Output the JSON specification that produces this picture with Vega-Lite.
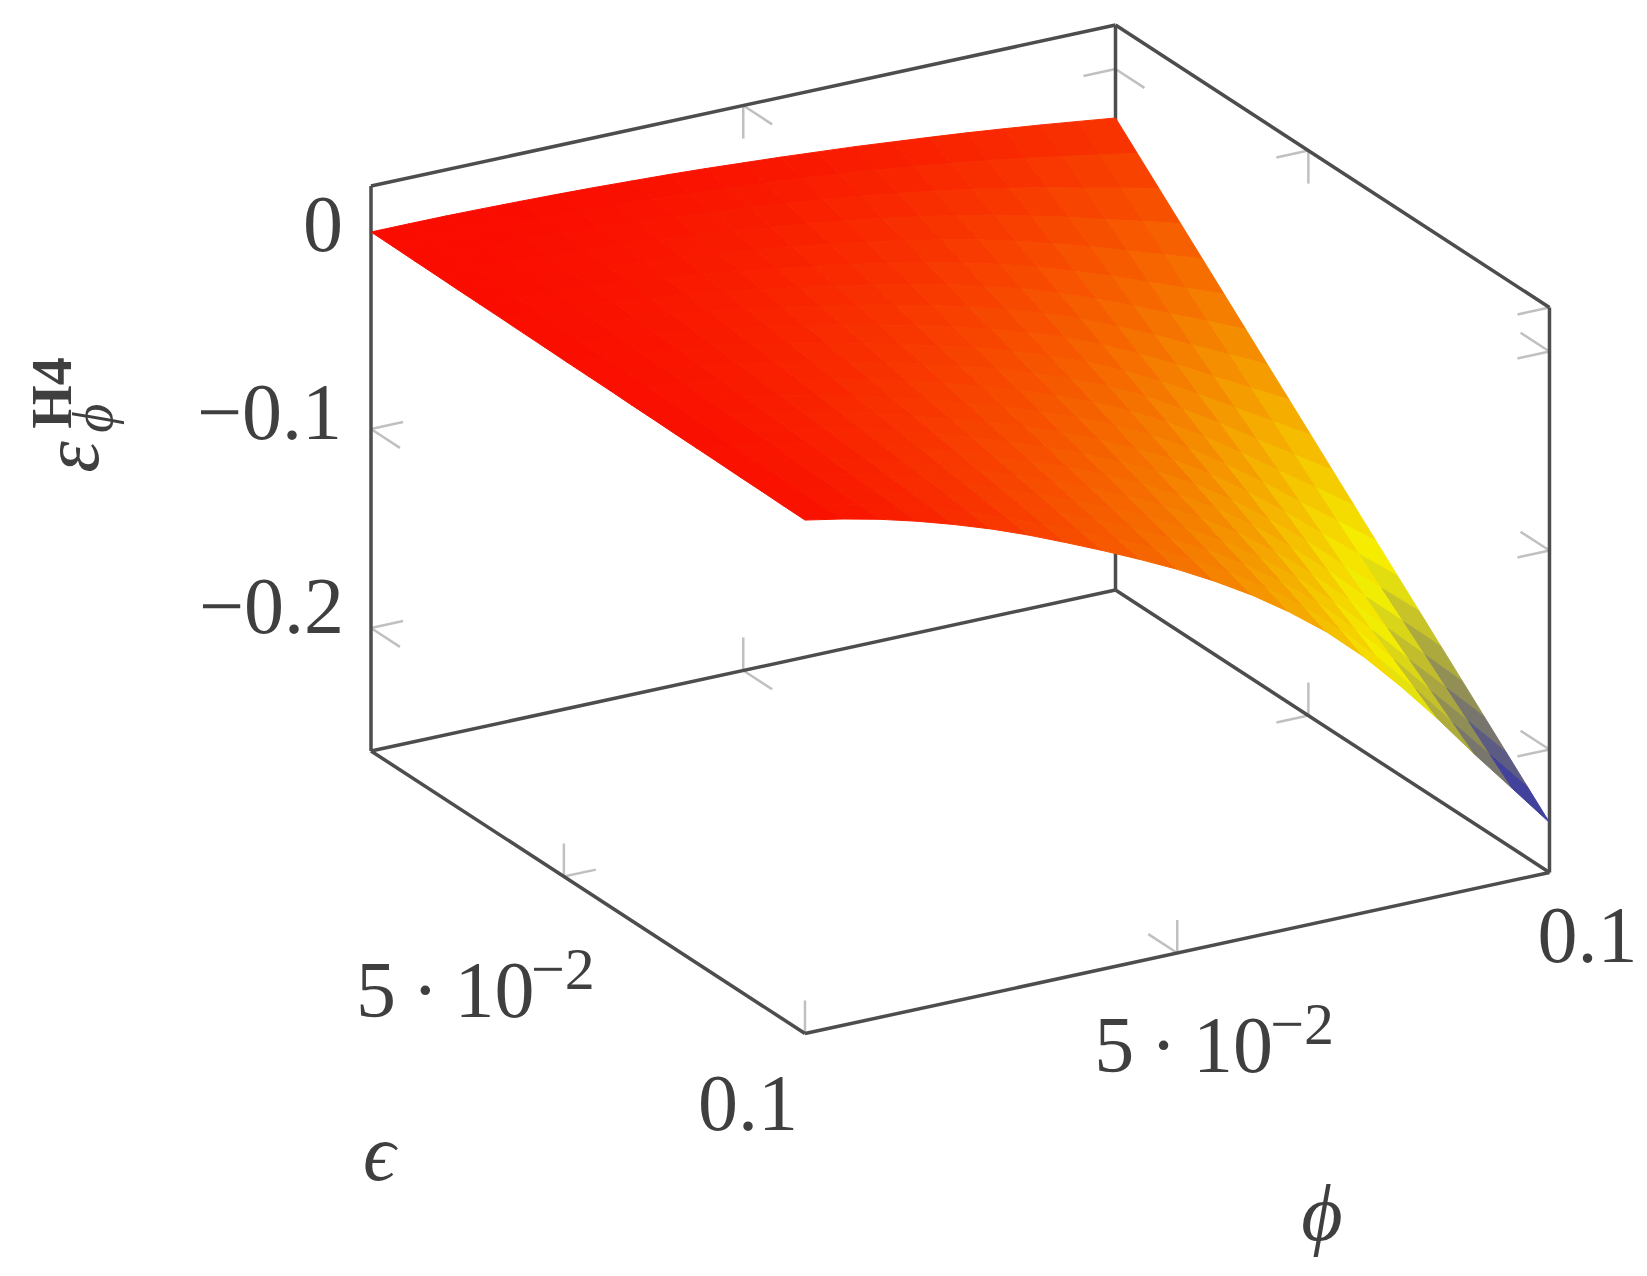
{"$schema":"https://vega.github.io/schema/vega-lite/v6.json","width":1647,"height":1276,"autosize":{"type":"none"},"padding":0,"background":"white","config":{"view":{"stroke":null}},
"datasets":{"grid":[
{"k":0,"z":-0.001},{"k":1,"z":-0.0011},{"k":2,"z":-0.0013},{"k":3,"z":-0.0014},{"k":4,"z":-0.0016},{"k":5,"z":-0.0017},{"k":6,"z":-0.0018},{"k":7,"z":-0.002},{"k":8,"z":-0.0021},{"k":9,"z":-0.0023},{"k":10,"z":-0.0024},{"k":11,"z":-0.0025},{"k":12,"z":-0.0027},{"k":13,"z":-0.0028},{"k":14,"z":-0.003},{"k":15,"z":-0.0031},{"k":16,"z":-0.0032},{"k":17,"z":-0.0034},{"k":18,"z":-0.0035},{"k":19,"z":-0.0037},{"k":20,"z":-0.0038},
{"k":100,"z":-0.001},{"k":101,"z":-0.0013},{"k":102,"z":-0.0016},{"k":103,"z":-0.002},{"k":104,"z":-0.0023},{"k":105,"z":-0.0026},{"k":106,"z":-0.0029},{"k":107,"z":-0.0032},{"k":108,"z":-0.0035},{"k":109,"z":-0.0038},{"k":110,"z":-0.0042},{"k":111,"z":-0.0045},{"k":112,"z":-0.0048},{"k":113,"z":-0.0051},{"k":114,"z":-0.0054},{"k":115,"z":-0.0057},{"k":116,"z":-0.006},{"k":117,"z":-0.0064},{"k":118,"z":-0.0067},{"k":119,"z":-0.007},{"k":120,"z":-0.0073},
{"k":200,"z":-0.0011},{"k":201,"z":-0.0017},{"k":202,"z":-0.0022},{"k":203,"z":-0.0027},{"k":204,"z":-0.0032},{"k":205,"z":-0.0037},{"k":206,"z":-0.0043},{"k":207,"z":-0.0048},{"k":208,"z":-0.0053},{"k":209,"z":-0.0058},{"k":210,"z":-0.0063},{"k":211,"z":-0.0068},{"k":212,"z":-0.0074},{"k":213,"z":-0.0079},{"k":214,"z":-0.0084},{"k":215,"z":-0.0089},{"k":216,"z":-0.0094},{"k":217,"z":-0.0099},{"k":218,"z":-0.0105},{"k":219,"z":-0.011},{"k":220,"z":-0.0115},
{"k":300,"z":-0.0014},{"k":301,"z":-0.0022},{"k":302,"z":-0.0029},{"k":303,"z":-0.0037},{"k":304,"z":-0.0044},{"k":305,"z":-0.0052},{"k":306,"z":-0.0059},{"k":307,"z":-0.0067},{"k":308,"z":-0.0074},{"k":309,"z":-0.0082},{"k":310,"z":-0.009},{"k":311,"z":-0.0097},{"k":312,"z":-0.0105},{"k":313,"z":-0.0112},{"k":314,"z":-0.012},{"k":315,"z":-0.0127},{"k":316,"z":-0.0135},{"k":317,"z":-0.0142},{"k":318,"z":-0.015},{"k":319,"z":-0.0157},{"k":320,"z":-0.0165},
{"k":400,"z":-0.0018},{"k":401,"z":-0.0028},{"k":402,"z":-0.0038},{"k":403,"z":-0.0048},{"k":404,"z":-0.0059},{"k":405,"z":-0.0069},{"k":406,"z":-0.0079},{"k":407,"z":-0.0089},{"k":408,"z":-0.0099},{"k":409,"z":-0.011},{"k":410,"z":-0.012},{"k":411,"z":-0.013},{"k":412,"z":-0.014},{"k":413,"z":-0.0151},{"k":414,"z":-0.0161},{"k":415,"z":-0.0171},{"k":416,"z":-0.0181},{"k":417,"z":-0.0191},{"k":418,"z":-0.0202},{"k":419,"z":-0.0212},{"k":420,"z":-0.0222},
{"k":500,"z":-0.0023},{"k":501,"z":-0.0036},{"k":502,"z":-0.0049},{"k":503,"z":-0.0062},{"k":504,"z":-0.0075},{"k":505,"z":-0.0089},{"k":506,"z":-0.0102},{"k":507,"z":-0.0115},{"k":508,"z":-0.0128},{"k":509,"z":-0.0141},{"k":510,"z":-0.0154},{"k":511,"z":-0.0167},{"k":512,"z":-0.018},{"k":513,"z":-0.0193},{"k":514,"z":-0.0206},{"k":515,"z":-0.0219},{"k":516,"z":-0.0233},{"k":517,"z":-0.0246},{"k":518,"z":-0.0259},{"k":519,"z":-0.0272},{"k":520,"z":-0.0285},
{"k":600,"z":-0.0029},{"k":601,"z":-0.0045},{"k":602,"z":-0.0062},{"k":603,"z":-0.0078},{"k":604,"z":-0.0095},{"k":605,"z":-0.0111},{"k":606,"z":-0.0127},{"k":607,"z":-0.0144},{"k":608,"z":-0.016},{"k":609,"z":-0.0176},{"k":610,"z":-0.0193},{"k":611,"z":-0.0209},{"k":612,"z":-0.0225},{"k":613,"z":-0.0242},{"k":614,"z":-0.0258},{"k":615,"z":-0.0274},{"k":616,"z":-0.0291},{"k":617,"z":-0.0307},{"k":618,"z":-0.0323},{"k":619,"z":-0.034},{"k":620,"z":-0.0356},
{"k":700,"z":-0.0037},{"k":701,"z":-0.0056},{"k":702,"z":-0.0076},{"k":703,"z":-0.0096},{"k":704,"z":-0.0116},{"k":705,"z":-0.0136},{"k":706,"z":-0.0156},{"k":707,"z":-0.0176},{"k":708,"z":-0.0196},{"k":709,"z":-0.0215},{"k":710,"z":-0.0235},{"k":711,"z":-0.0255},{"k":712,"z":-0.0275},{"k":713,"z":-0.0295},{"k":714,"z":-0.0315},{"k":715,"z":-0.0335},{"k":716,"z":-0.0355},{"k":717,"z":-0.0374},{"k":718,"z":-0.0394},{"k":719,"z":-0.0414},{"k":720,"z":-0.0434},
{"k":800,"z":-0.0045},{"k":801,"z":-0.0069},{"k":802,"z":-0.0092},{"k":803,"z":-0.0116},{"k":804,"z":-0.0139},{"k":805,"z":-0.0163},{"k":806,"z":-0.0186},{"k":807,"z":-0.021},{"k":808,"z":-0.0233},{"k":809,"z":-0.0257},{"k":810,"z":-0.028},{"k":811,"z":-0.0304},{"k":812,"z":-0.0327},{"k":813,"z":-0.0351},{"k":814,"z":-0.0374},{"k":815,"z":-0.0398},{"k":816,"z":-0.0421},{"k":817,"z":-0.0445},{"k":818,"z":-0.0468},{"k":819,"z":-0.0492},{"k":820,"z":-0.0515},
{"k":900,"z":-0.0055},{"k":901,"z":-0.0083},{"k":902,"z":-0.011},{"k":903,"z":-0.0137},{"k":904,"z":-0.0164},{"k":905,"z":-0.0192},{"k":906,"z":-0.0219},{"k":907,"z":-0.0246},{"k":908,"z":-0.0273},{"k":909,"z":-0.03},{"k":910,"z":-0.0328},{"k":911,"z":-0.0355},{"k":912,"z":-0.0382},{"k":913,"z":-0.0409},{"k":914,"z":-0.0437},{"k":915,"z":-0.0464},{"k":916,"z":-0.0491},{"k":917,"z":-0.0518},{"k":918,"z":-0.0545},{"k":919,"z":-0.0573},{"k":920,"z":-0.06},
{"k":1000,"z":-0.0067},{"k":1001,"z":-0.0098},{"k":1002,"z":-0.0129},{"k":1003,"z":-0.016},{"k":1004,"z":-0.0191},{"k":1005,"z":-0.0222},{"k":1006,"z":-0.0254},{"k":1007,"z":-0.0285},{"k":1008,"z":-0.0316},{"k":1009,"z":-0.0347},{"k":1010,"z":-0.0378},{"k":1011,"z":-0.0409},{"k":1012,"z":-0.0441},{"k":1013,"z":-0.0472},{"k":1014,"z":-0.0503},{"k":1015,"z":-0.0534},{"k":1016,"z":-0.0565},{"k":1017,"z":-0.0596},{"k":1018,"z":-0.0628},{"k":1019,"z":-0.0659},{"k":1020,"z":-0.069},
{"k":1100,"z":-0.0079},{"k":1101,"z":-0.0114},{"k":1102,"z":-0.015},{"k":1103,"z":-0.0186},{"k":1104,"z":-0.0221},{"k":1105,"z":-0.0257},{"k":1106,"z":-0.0292},{"k":1107,"z":-0.0328},{"k":1108,"z":-0.0363},{"k":1109,"z":-0.0399},{"k":1110,"z":-0.0434},{"k":1111,"z":-0.047},{"k":1112,"z":-0.0506},{"k":1113,"z":-0.0541},{"k":1114,"z":-0.0577},{"k":1115,"z":-0.0612},{"k":1116,"z":-0.0648},{"k":1117,"z":-0.0683},{"k":1118,"z":-0.0719},{"k":1119,"z":-0.0755},{"k":1120,"z":-0.079},
{"k":1200,"z":-0.0093},{"k":1201,"z":-0.0133},{"k":1202,"z":-0.0173},{"k":1203,"z":-0.0214},{"k":1204,"z":-0.0254},{"k":1205,"z":-0.0294},{"k":1206,"z":-0.0335},{"k":1207,"z":-0.0375},{"k":1208,"z":-0.0416},{"k":1209,"z":-0.0456},{"k":1210,"z":-0.0496},{"k":1211,"z":-0.0537},{"k":1212,"z":-0.0577},{"k":1213,"z":-0.0617},{"k":1214,"z":-0.0658},{"k":1215,"z":-0.0698},{"k":1216,"z":-0.0739},{"k":1217,"z":-0.0779},{"k":1218,"z":-0.0819},{"k":1219,"z":-0.086},{"k":1220,"z":-0.09},
{"k":1300,"z":-0.0107},{"k":1301,"z":-0.0153},{"k":1302,"z":-0.0199},{"k":1303,"z":-0.0245},{"k":1304,"z":-0.0291},{"k":1305,"z":-0.0337},{"k":1306,"z":-0.0383},{"k":1307,"z":-0.0429},{"k":1308,"z":-0.0474},{"k":1309,"z":-0.052},{"k":1310,"z":-0.0566},{"k":1311,"z":-0.0612},{"k":1312,"z":-0.0658},{"k":1313,"z":-0.0704},{"k":1314,"z":-0.075},{"k":1315,"z":-0.0796},{"k":1316,"z":-0.0841},{"k":1317,"z":-0.0887},{"k":1318,"z":-0.0933},{"k":1319,"z":-0.0979},{"k":1320,"z":-0.1025},
{"k":1400,"z":-0.0124},{"k":1401,"z":-0.0176},{"k":1402,"z":-0.0228},{"k":1403,"z":-0.028},{"k":1404,"z":-0.0332},{"k":1405,"z":-0.0384},{"k":1406,"z":-0.0436},{"k":1407,"z":-0.0488},{"k":1408,"z":-0.054},{"k":1409,"z":-0.0592},{"k":1410,"z":-0.0644},{"k":1411,"z":-0.0696},{"k":1412,"z":-0.0749},{"k":1413,"z":-0.0801},{"k":1414,"z":-0.0853},{"k":1415,"z":-0.0905},{"k":1416,"z":-0.0957},{"k":1417,"z":-0.1009},{"k":1418,"z":-0.1061},{"k":1419,"z":-0.1113},{"k":1420,"z":-0.1165},
{"k":1500,"z":-0.0141},{"k":1501,"z":-0.02},{"k":1502,"z":-0.026},{"k":1503,"z":-0.0319},{"k":1504,"z":-0.0379},{"k":1505,"z":-0.0438},{"k":1506,"z":-0.0498},{"k":1507,"z":-0.0557},{"k":1508,"z":-0.0616},{"k":1509,"z":-0.0676},{"k":1510,"z":-0.0735},{"k":1511,"z":-0.0795},{"k":1512,"z":-0.0854},{"k":1513,"z":-0.0914},{"k":1514,"z":-0.0973},{"k":1515,"z":-0.1033},{"k":1516,"z":-0.1092},{"k":1517,"z":-0.1152},{"k":1518,"z":-0.1211},{"k":1519,"z":-0.1271},{"k":1520,"z":-0.133},
{"k":1600,"z":-0.0159},{"k":1601,"z":-0.0227},{"k":1602,"z":-0.0295},{"k":1603,"z":-0.0364},{"k":1604,"z":-0.0432},{"k":1605,"z":-0.05},{"k":1606,"z":-0.0568},{"k":1607,"z":-0.0636},{"k":1608,"z":-0.0704},{"k":1609,"z":-0.0772},{"k":1610,"z":-0.084},{"k":1611,"z":-0.0908},{"k":1612,"z":-0.0976},{"k":1613,"z":-0.1044},{"k":1614,"z":-0.1112},{"k":1615,"z":-0.118},{"k":1616,"z":-0.1248},{"k":1617,"z":-0.1316},{"k":1618,"z":-0.1384},{"k":1619,"z":-0.1452},{"k":1620,"z":-0.152},
{"k":1700,"z":-0.0179},{"k":1701,"z":-0.0256},{"k":1702,"z":-0.0334},{"k":1703,"z":-0.0411},{"k":1704,"z":-0.0488},{"k":1705,"z":-0.0565},{"k":1706,"z":-0.0643},{"k":1707,"z":-0.072},{"k":1708,"z":-0.0797},{"k":1709,"z":-0.0875},{"k":1710,"z":-0.0952},{"k":1711,"z":-0.1029},{"k":1712,"z":-0.1107},{"k":1713,"z":-0.1184},{"k":1714,"z":-0.1261},{"k":1715,"z":-0.1339},{"k":1716,"z":-0.1416},{"k":1717,"z":-0.1493},{"k":1718,"z":-0.157},{"k":1719,"z":-0.1648},{"k":1720,"z":-0.1725},
{"k":1800,"z":-0.02},{"k":1801,"z":-0.0288},{"k":1802,"z":-0.0375},{"k":1803,"z":-0.0462},{"k":1804,"z":-0.0549},{"k":1805,"z":-0.0637},{"k":1806,"z":-0.0724},{"k":1807,"z":-0.0811},{"k":1808,"z":-0.0898},{"k":1809,"z":-0.0985},{"k":1810,"z":-0.1073},{"k":1811,"z":-0.116},{"k":1812,"z":-0.1247},{"k":1813,"z":-0.1334},{"k":1814,"z":-0.1422},{"k":1815,"z":-0.1509},{"k":1816,"z":-0.1596},{"k":1817,"z":-0.1683},{"k":1818,"z":-0.177},{"k":1819,"z":-0.1858},{"k":1820,"z":-0.1945},
{"k":1900,"z":-0.0223},{"k":1901,"z":-0.0319},{"k":1902,"z":-0.0416},{"k":1903,"z":-0.0512},{"k":1904,"z":-0.0609},{"k":1905,"z":-0.0706},{"k":1906,"z":-0.0802},{"k":1907,"z":-0.0899},{"k":1908,"z":-0.0996},{"k":1909,"z":-0.1092},{"k":1910,"z":-0.1189},{"k":1911,"z":-0.1286},{"k":1912,"z":-0.1382},{"k":1913,"z":-0.1479},{"k":1914,"z":-0.1576},{"k":1915,"z":-0.1672},{"k":1916,"z":-0.1769},{"k":1917,"z":-0.1866},{"k":1918,"z":-0.1962},{"k":1919,"z":-0.2059},{"k":1920,"z":-0.2155},
{"k":2000,"z":-0.0246},{"k":2001,"z":-0.0352},{"k":2002,"z":-0.0458},{"k":2003,"z":-0.0564},{"k":2004,"z":-0.067},{"k":2005,"z":-0.0776},{"k":2006,"z":-0.0882},{"k":2007,"z":-0.0988},{"k":2008,"z":-0.1094},{"k":2009,"z":-0.12},{"k":2010,"z":-0.1307},{"k":2011,"z":-0.1413},{"k":2012,"z":-0.1519},{"k":2013,"z":-0.1625},{"k":2014,"z":-0.1731},{"k":2015,"z":-0.1837},{"k":2016,"z":-0.1943},{"k":2017,"z":-0.2049},{"k":2018,"z":-0.2155},{"k":2019,"z":-0.2261},{"k":2020,"z":-0.2367}
]},
"layer":[
{"data":{"values":[
{"kind":"edge","phi":0,"eps":0.01,"z":-0.2618,"phi2":0,"eps2":0.01,"z2":0.0221},
{"kind":"edge","phi":0.1,"eps":0.01,"z":-0.2618,"phi2":0.1,"eps2":0.01,"z2":0.0221},
{"kind":"edge","phi":0.1,"eps":0.1,"z":-0.2618,"phi2":0.1,"eps2":0.1,"z2":0.0221},
{"kind":"edge","phi":0,"eps":0.01,"z":0.0221,"phi2":0.1,"eps2":0.01,"z2":0.0221},
{"kind":"edge","phi":0.1,"eps":0.01,"z":0.0221,"phi2":0.1,"eps2":0.1,"z2":0.0221},
{"kind":"edge","phi":0,"eps":0.01,"z":-0.2618,"phi2":0.1,"eps2":0.01,"z2":-0.2618},
{"kind":"edge","phi":0.1,"eps":0.01,"z":-0.2618,"phi2":0.1,"eps2":0.1,"z2":-0.2618},
{"kind":"edge","phi":0,"eps":0.01,"z":-0.2618,"phi2":0,"eps2":0.1,"z2":-0.2618},
{"kind":"edge","phi":0,"eps":0.1,"z":-0.2618,"phi2":0.1,"eps2":0.1,"z2":-0.2618},
{"kind":"tick","phi":0,"eps":0.01,"z":-0.1,"phi2":0.0043,"eps2":0.01,"z2":-0.1},
{"kind":"tick","phi":0,"eps":0.01,"z":-0.1,"phi2":0,"eps2":0.016,"z2":-0.1},
{"kind":"tick","phi":0,"eps":0.01,"z":-0.2,"phi2":0.0043,"eps2":0.01,"z2":-0.2},
{"kind":"tick","phi":0,"eps":0.01,"z":-0.2,"phi2":0,"eps2":0.016,"z2":-0.2},
{"kind":"tick","phi":0.1,"eps":0.01,"z":0,"phi2":0.0957,"eps2":0.01,"z2":0},
{"kind":"tick","phi":0.1,"eps":0.01,"z":0,"phi2":0.1,"eps2":0.016,"z2":0},
{"kind":"tick","phi":0.1,"eps":0.1,"z":0,"phi2":0.0957,"eps2":0.1,"z2":0},
{"kind":"tick","phi":0.1,"eps":0.1,"z":0,"phi2":0.1,"eps2":0.094,"z2":0},
{"kind":"tick","phi":0.1,"eps":0.1,"z":-0.1,"phi2":0.0957,"eps2":0.1,"z2":-0.1},
{"kind":"tick","phi":0.1,"eps":0.1,"z":-0.1,"phi2":0.1,"eps2":0.094,"z2":-0.1},
{"kind":"tick","phi":0.1,"eps":0.1,"z":-0.2,"phi2":0.0957,"eps2":0.1,"z2":-0.2},
{"kind":"tick","phi":0.1,"eps":0.1,"z":-0.2,"phi2":0.1,"eps2":0.094,"z2":-0.2},
{"kind":"tick","phi":0.05,"eps":0.01,"z":0.0221,"phi2":0.05,"eps2":0.01,"z2":0.0055},
{"kind":"tick","phi":0.05,"eps":0.01,"z":0.0221,"phi2":0.05,"eps2":0.016,"z2":0.0221},
{"kind":"tick","phi":0.05,"eps":0.01,"z":-0.2618,"phi2":0.05,"eps2":0.01,"z2":-0.2452},
{"kind":"tick","phi":0.05,"eps":0.01,"z":-0.2618,"phi2":0.05,"eps2":0.016,"z2":-0.2618},
{"kind":"tick","phi":0.05,"eps":0.1,"z":-0.2618,"phi2":0.05,"eps2":0.1,"z2":-0.2452},
{"kind":"tick","phi":0.05,"eps":0.1,"z":-0.2618,"phi2":0.05,"eps2":0.094,"z2":-0.2618},
{"kind":"tick","phi":0,"eps":0.1,"z":-0.2618,"phi2":0,"eps2":0.1,"z2":-0.2452},
{"kind":"tick","phi":0,"eps":0.05,"z":-0.2618,"phi2":0,"eps2":0.05,"z2":-0.2452},
{"kind":"tick","phi":0,"eps":0.05,"z":-0.2618,"phi2":0.0043,"eps2":0.05,"z2":-0.2618},
{"kind":"tick","phi":0.1,"eps":0.05,"z":-0.2618,"phi2":0.1,"eps2":0.05,"z2":-0.2452},
{"kind":"tick","phi":0.1,"eps":0.05,"z":-0.2618,"phi2":0.0957,"eps2":0.05,"z2":-0.2618},
{"kind":"tick","phi":0.1,"eps":0.05,"z":0.0221,"phi2":0.1,"eps2":0.05,"z2":0.0055},
{"kind":"tick","phi":0.1,"eps":0.05,"z":0.0221,"phi2":0.0957,"eps2":0.05,"z2":0.0221},
{"kind":"tick","phi":0.1,"eps":0.1,"z":0.0221,"phi2":0.0957,"eps2":0.1,"z2":0.0221},
{"kind":"l1","label":"0","phi":0,"eps":0.01,"z":0},
{"kind":"l2","label":"−0.1","phi":0,"eps":0.01,"z":-0.1},
{"kind":"l3","label":"−0.2","phi":0,"eps":0.01,"z":-0.2},
{"kind":"l4","label":"5\u2009·\u200910","phi":0,"eps":0.05,"z":-0.2618},
{"kind":"l5","label":"−2","phi":0,"eps":0.05,"z":-0.2618},
{"kind":"l6","label":"0.1","phi":0,"eps":0.1,"z":-0.2618},
{"kind":"l7","label":"5\u2009·\u200910","phi":0.05,"eps":0.1,"z":-0.2618},
{"kind":"l8","label":"−2","phi":0.05,"eps":0.1,"z":-0.2618},
{"kind":"l9","label":"0.1","phi":0.1,"eps":0.1,"z":-0.2618},
{"kind":"l10","label":"ϵ","phi":0,"eps":0.055,"z":-0.2618},
{"kind":"l11","label":"ϕ","phi":0.05,"eps":0.1,"z":-0.2618},
{"kind":"l12","label":"ε","phi":0,"eps":0.01,"z":-0.12},
{"kind":"l13","label":"H4","phi":0,"eps":0.01,"z":-0.12},
{"kind":"l14","label":"ϕ","phi":0,"eps":0.01,"z":-0.12}
]},
"transform":[
{"calculate":"371+7445*datum.phi+4822*(datum.eps-0.01)","as":"X"},
{"calculate":"230-1610*datum.phi+3139*(datum.eps-0.01)-1990*datum.z","as":"Y"},
{"calculate":"371+7445*datum.phi2+4822*(datum.eps2-0.01)","as":"X2"},
{"calculate":"230-1610*datum.phi2+3139*(datum.eps2-0.01)-1990*datum.z2","as":"Y2"}
],
"encoding":{
"x":{"field":"X","type":"quantitative","scale":{"domain":[0,1647]},"axis":null},
"y":{"field":"Y","type":"quantitative","scale":{"domain":[1276,0]},"axis":null}
},
"layer":[
{"transform":[{"filter":"datum.kind==='tick'"}],"mark":{"type":"rule","stroke":"#c0c0c0","strokeWidth":2.5},"encoding":{"x2":{"field":"X2"},"y2":{"field":"Y2"}}},
{"transform":[{"filter":"datum.kind==='edge'"}],"mark":{"type":"rule","stroke":"#4d4d4d","strokeWidth":3.5},"encoding":{"x2":{"field":"X2"},"y2":{"field":"Y2"}}},
{"transform":[{"filter":"datum.kind==='l1'"}],"mark":{"type":"text","font":"Liberation Serif","fontSize":80,"fill":"#3f3f3f","align":"right","baseline":"alphabetic","dx":-28,"dy":21},"encoding":{"text":{"field":"label"}}},
{"transform":[{"filter":"datum.kind==='l2'"}],"mark":{"type":"text","font":"Liberation Serif","fontSize":80,"fill":"#3f3f3f","align":"right","baseline":"alphabetic","dx":-29,"dy":10},"encoding":{"text":{"field":"label"}}},
{"transform":[{"filter":"datum.kind==='l3'"}],"mark":{"type":"text","font":"Liberation Serif","fontSize":80,"fill":"#3f3f3f","align":"right","baseline":"alphabetic","dx":-27,"dy":5},"encoding":{"text":{"field":"label"}}},
{"transform":[{"filter":"datum.kind==='l4'"}],"mark":{"type":"text","font":"Liberation Serif","fontSize":80,"fill":"#3f3f3f","align":"left","baseline":"alphabetic","dx":-208,"dy":140},"encoding":{"text":{"field":"label"}}},
{"transform":[{"filter":"datum.kind==='l5'"}],"mark":{"type":"text","font":"Liberation Serif","fontSize":60,"fill":"#3f3f3f","align":"left","baseline":"alphabetic","dx":-33,"dy":112},"encoding":{"text":{"field":"label"}}},
{"transform":[{"filter":"datum.kind==='l6'"}],"mark":{"type":"text","font":"Liberation Serif","fontSize":80,"fill":"#3f3f3f","align":"right","baseline":"alphabetic","dx":-7,"dy":97},"encoding":{"text":{"field":"label"}}},
{"transform":[{"filter":"datum.kind==='l7'"}],"mark":{"type":"text","font":"Liberation Serif","fontSize":80,"fill":"#3f3f3f","align":"left","baseline":"alphabetic","dx":-83,"dy":119},"encoding":{"text":{"field":"label"}}},
{"transform":[{"filter":"datum.kind==='l8'"}],"mark":{"type":"text","font":"Liberation Serif","fontSize":60,"fill":"#3f3f3f","align":"left","baseline":"alphabetic","dx":93,"dy":91},"encoding":{"text":{"field":"label"}}},
{"transform":[{"filter":"datum.kind==='l9'"}],"mark":{"type":"text","font":"Liberation Serif","fontSize":80,"fill":"#3f3f3f","align":"left","baseline":"alphabetic","dx":-12,"dy":90},"encoding":{"text":{"field":"label"}}},
{"transform":[{"filter":"datum.kind==='l10'"}],"mark":{"type":"text","font":"Liberation Serif","fontStyle":"italic","fontSize":80,"fill":"#3f3f3f","align":"left","baseline":"alphabetic","dx":-225,"dy":288},"encoding":{"text":{"field":"label"}}},
{"transform":[{"filter":"datum.kind==='l11'"}],"mark":{"type":"text","font":"Liberation Serif","fontStyle":"italic","fontSize":80,"fill":"#3f3f3f","align":"left","baseline":"alphabetic","dx":124,"dy":287},"encoding":{"text":{"field":"label"}}},
{"transform":[{"filter":"datum.kind==='l12'"}],"mark":{"type":"text","font":"Liberation Serif","fontStyle":"italic","fontSize":80,"fill":"#3f3f3f","align":"left","baseline":"alphabetic","angle":270,"dx":-4,"dy":-273},"encoding":{"text":{"field":"label"}}},
{"transform":[{"filter":"datum.kind==='l13'"}],"mark":{"type":"text","font":"Liberation Serif","fontWeight":"bold","fontSize":56,"fill":"#3f3f3f","align":"left","baseline":"alphabetic","angle":270,"dx":40,"dy":-300},"encoding":{"text":{"field":"label"}}},
{"transform":[{"filter":"datum.kind==='l14'"}],"mark":{"type":"text","font":"Liberation Serif","fontStyle":"italic","fontSize":56,"fill":"#3f3f3f","align":"left","baseline":"alphabetic","angle":270,"dx":36,"dy":-259},"encoding":{"text":{"field":"label"}}}
]},
{"data":{"name":"grid"},
"transform":[
{"filter":"datum.k<2000 && datum.k%100<20"},
{"calculate":"datum.k+100","as":"k10"},{"calculate":"datum.k+1","as":"k01"},{"calculate":"datum.k+101","as":"k11"},
{"lookup":"k10","from":{"data":{"name":"grid"},"key":"k","fields":["z"]},"as":["z10"]},
{"lookup":"k01","from":{"data":{"name":"grid"},"key":"k","fields":["z"]},"as":["z01"]},
{"lookup":"k11","from":{"data":{"name":"grid"},"key":"k","fields":["z"]},"as":["z11"]},
{"calculate":"floor(datum.k/100)*0.005","as":"p0"},{"calculate":"datum.p0+0.005","as":"p1"},
{"calculate":"0.01+(datum.k%100)*0.0045","as":"e0"},{"calculate":"datum.e0+0.0045","as":"e1"},
{"calculate":"(datum.z+datum.z10+datum.z01+datum.z11)/4","as":"zm"},
{"calculate":"{type:'Polygon',coordinates:[[[371+7445*datum.p0+4822*(datum.e0-0.01),230-1610*datum.p0+3139*(datum.e0-0.01)-1990*datum.z],[371+7445*datum.p1+4822*(datum.e0-0.01),230-1610*datum.p1+3139*(datum.e0-0.01)-1990*datum.z10],[371+7445*datum.p1+4822*(datum.e1-0.01),230-1610*datum.p1+3139*(datum.e1-0.01)-1990*datum.z11],[371+7445*datum.p0+4822*(datum.e1-0.01),230-1610*datum.p0+3139*(datum.e1-0.01)-1990*datum.z01],[371+7445*datum.p0+4822*(datum.e0-0.01),230-1610*datum.p0+3139*(datum.e0-0.01)-1990*datum.z]]]}","as":"geo"}
],
"projection":{"type":"identity","scale":1,"translate":[0,0]},
"mark":{"type":"geoshape","strokeWidth":1},
"encoding":{
"shape":{"field":"geo","type":"geojson"},
"color":{"field":"zm","type":"quantitative","scale":{"domain":[-0.23,-0.153,-0.077,0],"range":["#2a2ab0","#f5f000","#f57a00","#fa0a00"],"interpolate":"rgb"},"legend":null},
"stroke":{"field":"zm","type":"quantitative","scale":{"domain":[-0.23,-0.153,-0.077,0],"range":["#2a2ab0","#f5f000","#f57a00","#fa0a00"],"interpolate":"rgb"},"legend":null}
}}
]}
